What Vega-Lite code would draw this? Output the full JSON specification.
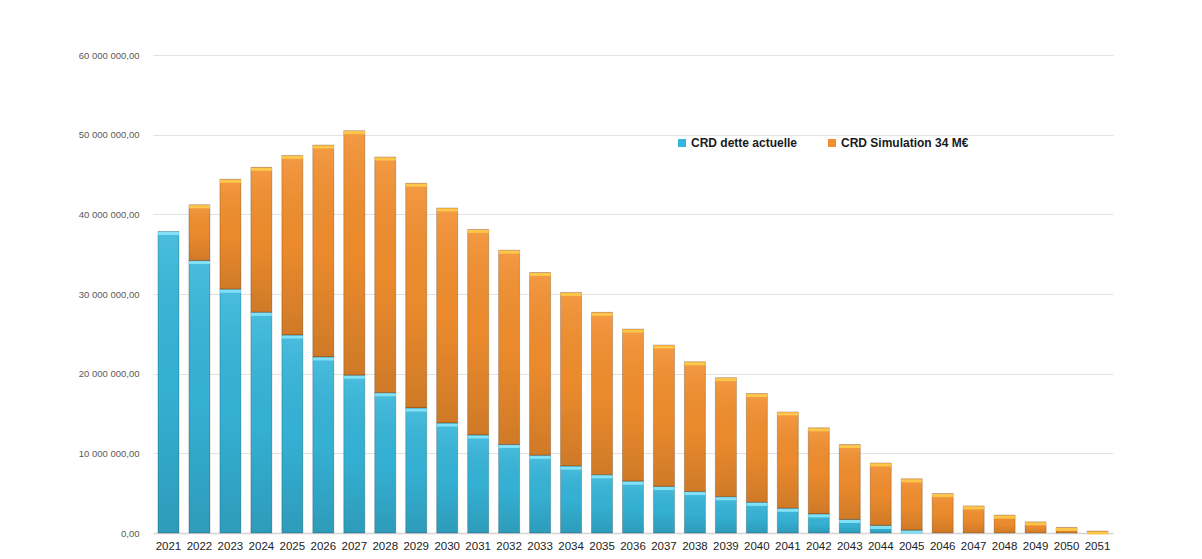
{
  "$schema": "https://vega.github.io/schema/vega-lite/v6.json",
  "width": 960,
  "height": 478,
  "autosize": {"type": "none"},
  "padding": {"left": 153, "top": 55, "right": 89, "bottom": 26},
  "background": "white",
  "config": {
    "locale": {"number": {"decimal": ",", "thousands": " ", "grouping": [3], "currency": ["", " €"]}},
    "view": {"stroke": null},
    "font": "Liberation Sans"
  },
  "data": {
    "values": [
      {"year": "2021", "series": "CRD dette actuelle", "value": 37850000},
      {"year": "2022", "series": "CRD dette actuelle", "value": 34200000},
      {"year": "2023", "series": "CRD dette actuelle", "value": 30600000},
      {"year": "2024", "series": "CRD dette actuelle", "value": 27700000},
      {"year": "2025", "series": "CRD dette actuelle", "value": 24850000},
      {"year": "2026", "series": "CRD dette actuelle", "value": 22100000},
      {"year": "2027", "series": "CRD dette actuelle", "value": 19800000},
      {"year": "2028", "series": "CRD dette actuelle", "value": 17600000},
      {"year": "2029", "series": "CRD dette actuelle", "value": 15700000},
      {"year": "2030", "series": "CRD dette actuelle", "value": 13800000},
      {"year": "2031", "series": "CRD dette actuelle", "value": 12300000},
      {"year": "2032", "series": "CRD dette actuelle", "value": 11100000},
      {"year": "2033", "series": "CRD dette actuelle", "value": 9750000},
      {"year": "2034", "series": "CRD dette actuelle", "value": 8400000},
      {"year": "2035", "series": "CRD dette actuelle", "value": 7300000},
      {"year": "2036", "series": "CRD dette actuelle", "value": 6500000},
      {"year": "2037", "series": "CRD dette actuelle", "value": 5850000},
      {"year": "2038", "series": "CRD dette actuelle", "value": 5200000},
      {"year": "2039", "series": "CRD dette actuelle", "value": 4550000},
      {"year": "2040", "series": "CRD dette actuelle", "value": 3850000},
      {"year": "2041", "series": "CRD dette actuelle", "value": 3100000},
      {"year": "2042", "series": "CRD dette actuelle", "value": 2400000},
      {"year": "2043", "series": "CRD dette actuelle", "value": 1700000},
      {"year": "2044", "series": "CRD dette actuelle", "value": 950000},
      {"year": "2045", "series": "CRD dette actuelle", "value": 350000},
      {"year": "2046", "series": "CRD dette actuelle", "value": 0},
      {"year": "2047", "series": "CRD dette actuelle", "value": 0},
      {"year": "2048", "series": "CRD dette actuelle", "value": 0},
      {"year": "2049", "series": "CRD dette actuelle", "value": 0},
      {"year": "2050", "series": "CRD dette actuelle", "value": 0},
      {"year": "2051", "series": "CRD dette actuelle", "value": 0},
      {"year": "2021", "series": "CRD Simulation 34 M€", "value": 0},
      {"year": "2022", "series": "CRD Simulation 34 M€", "value": 7000000},
      {"year": "2023", "series": "CRD Simulation 34 M€", "value": 13800000},
      {"year": "2024", "series": "CRD Simulation 34 M€", "value": 18200000},
      {"year": "2025", "series": "CRD Simulation 34 M€", "value": 22550000},
      {"year": "2026", "series": "CRD Simulation 34 M€", "value": 26600000},
      {"year": "2027", "series": "CRD Simulation 34 M€", "value": 30700000},
      {"year": "2028", "series": "CRD Simulation 34 M€", "value": 29600000},
      {"year": "2029", "series": "CRD Simulation 34 M€", "value": 28200000},
      {"year": "2030", "series": "CRD Simulation 34 M€", "value": 27000000},
      {"year": "2031", "series": "CRD Simulation 34 M€", "value": 25800000},
      {"year": "2032", "series": "CRD Simulation 34 M€", "value": 24400000},
      {"year": "2033", "series": "CRD Simulation 34 M€", "value": 22950000},
      {"year": "2034", "series": "CRD Simulation 34 M€", "value": 21800000},
      {"year": "2035", "series": "CRD Simulation 34 M€", "value": 20400000},
      {"year": "2036", "series": "CRD Simulation 34 M€", "value": 19100000},
      {"year": "2037", "series": "CRD Simulation 34 M€", "value": 17750000},
      {"year": "2038", "series": "CRD Simulation 34 M€", "value": 16300000},
      {"year": "2039", "series": "CRD Simulation 34 M€", "value": 14950000},
      {"year": "2040", "series": "CRD Simulation 34 M€", "value": 13650000},
      {"year": "2041", "series": "CRD Simulation 34 M€", "value": 12100000},
      {"year": "2042", "series": "CRD Simulation 34 M€", "value": 10800000},
      {"year": "2043", "series": "CRD Simulation 34 M€", "value": 9400000},
      {"year": "2044", "series": "CRD Simulation 34 M€", "value": 7850000},
      {"year": "2045", "series": "CRD Simulation 34 M€", "value": 6450000},
      {"year": "2046", "series": "CRD Simulation 34 M€", "value": 4950000},
      {"year": "2047", "series": "CRD Simulation 34 M€", "value": 3400000},
      {"year": "2048", "series": "CRD Simulation 34 M€", "value": 2250000},
      {"year": "2049", "series": "CRD Simulation 34 M€", "value": 1400000},
      {"year": "2050", "series": "CRD Simulation 34 M€", "value": 700000},
      {"year": "2051", "series": "CRD Simulation 34 M€", "value": 250000}
    ]
  },
  "encoding": {
    "x": {
      "field": "year",
      "type": "ordinal",
      "title": null,
      "scale": {"paddingInner": 0.32, "paddingOuter": 0.16},
      "axis": {
        "labelAngle": 0,
        "ticks": false,
        "labelFontSize": 11.5,
        "labelColor": "#222222",
        "labelPadding": 7,
        "domainColor": "#d4d4d4",
        "domainWidth": 1.5
      }
    },
    "y": {
      "field": "value",
      "type": "quantitative",
      "title": null,
      "stack": "zero",
      "scale": {"domain": [0, 60000000], "nice": false},
      "axis": {
        "values": [0, 10000000, 20000000, 30000000, 40000000, 50000000, 60000000],
        "format": ",.2f",
        "ticks": false,
        "domain": false,
        "labelFontSize": 9.5,
        "labelColor": "#595959",
        "labelPadding": 14,
        "gridColor": "#e2e2e2",
        "gridWidth": 1
      }
    },
    "order": {"field": "series", "sort": "descending"}
  },
  "layer": [
    {
      "mark": {"type": "bar"},
      "encoding": {
        "color": {
          "field": "series",
          "type": "nominal",
          "scale": {
            "domain": ["CRD dette actuelle", "CRD Simulation 34 M€"],
            "range": ["#36b6da", "#f38f2e"]
          },
          "legend": {
            "title": null,
            "orient": "none",
            "direction": "horizontal",
            "legendX": 523,
            "legendY": 82,
            "symbolType": "square",
            "symbolSize": 64,
            "symbolStrokeWidth": 0,
            "labelFontSize": 12,
            "labelFontWeight": "bold",
            "labelColor": "#1a1a1a",
            "labelOffset": 3,
            "columnPadding": 28
          }
        }
      }
    },
    {
      "transform": [{"filter": "datum.value > 0"}],
      "mark": {
        "type": "bar",
        "stroke": "rgba(0,0,0,0.25)",
        "strokeWidth": 0.8,
        "fill": {
          "gradient": "linear",
          "x1": 0, "y1": 0, "x2": 0, "y2": 1,
          "stops": [
            {"offset": 0, "color": "rgba(255,255,255,0.1)"},
            {"offset": 0.5, "color": "rgba(0,0,0,0.03)"},
            {"offset": 1, "color": "rgba(0,0,0,0.15)"}
          ]
        }
      },
      "encoding": {"detail": {"field": "series"}}
    },
    {
      "transform": [{"filter": "datum.value > 0 && datum.series == 'CRD dette actuelle'"}],
      "mark": {"type": "tick", "color": "#86e3f8", "thickness": 3, "yOffset": 2, "bandSize": 19, "opacity": 0.95},
      "encoding": {"detail": {"field": "series"}}
    },
    {
      "transform": [{"filter": "datum.value > 0"}],
      "mark": {"type": "tick", "color": "#fcc94c", "thickness": 3, "yOffset": 2, "bandSize": 19, "opacity": 0.95},
      "encoding": {
        "y": {"field": "value", "type": "quantitative", "stack": "zero"},
        "detail": {"field": "series"},
        "opacity": {
          "condition": {"test": "datum.series == 'CRD Simulation 34 M€'", "value": 0.95},
          "value": 0
        }
      }
    }
  ]
}
